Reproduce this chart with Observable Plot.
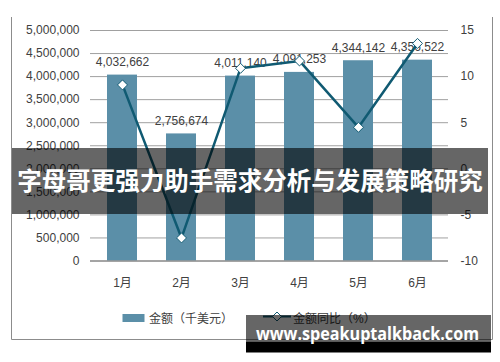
<!DOCTYPE html>
<html>
<head>
<meta charset="utf-8">
<script src="https://cdn.jsdelivr.net/npm/d3@7"></script>
<script src="https://cdn.jsdelivr.net/npm/@observablehq/plot@0.6"></script>
<style>
  html, body { margin: 0; padding: 0; background: #fff; }
  #chart { width: 500px; height: 362px; overflow: hidden; }
</style>
</head>
<body>
<div id="chart"></div>
<script>
const months = ["1月", "2月", "3月", "4月", "5月", "6月"];
const amounts = [4032662, 2756674, 4011140, 4091253, 4344142, 4356522];
const yoy = [9.1, -7.5, 10.9, 11.7, 4.5, 13.6];
const leftTicks = [0, 500000, 1000000, 1500000, 2000000, 2500000, 3000000, 3500000, 4000000, 4500000, 5000000];
const rightTicks = [-10, -5, 0, 5, 10, 15];
const title = "字母哥更强力助手需求分析与发展策略研究";
const legendBar = "金额（千美元）";
const legendLine = "金额同比（%）";
const watermark = "www.speakuptalkback.com";

const barColor = "#5b8fa8";
const lineColor = "#105a72";
const textColor = "#404040";
const font = "'Liberation Sans', Arial, 'Noto Sans CJK SC', sans-serif";

const data = months.map((m, i) => ({month: m, amount: amounts[i], yoy: yoy[i]}));
const toLeft = v => (v + 10) / 25 * 5000000;
const fmt = d3.format(",");

const chart = Plot.plot({
  width: 500,
  height: 362,
  marginLeft: 90,
  marginRight: 52,
  marginTop: 30,
  marginBottom: 101.5,
  style: {fontFamily: font, fontSize: "12px", color: textColor, background: "#fff"},
  x: {domain: months, paddingInner: 0.5, paddingOuter: 0.25, label: null},
  y: {domain: [0, 5000000], label: null},
  marks: [
    Plot.ruleY(leftTicks, {stroke: "#a0a0a0", strokeWidth: 1}),
    Plot.barY(data, {x: "month", y: "amount", fill: barColor}),
    Plot.ruleY([0], {stroke: "#7a7a7a", strokeWidth: 1}),
    Plot.axisY(leftTicks, {tickSize: 0, tickPadding: 11, tickFormat: fmt, label: null, fill: textColor}),
    Plot.axisY(rightTicks.map(toLeft), {anchor: "right", tickSize: 0, tickPadding: 12, tickFormat: d => String(Math.round(d / 200000 - 10)), label: null, fill: textColor}),
    Plot.axisX({tickSize: 0, tickPadding: 17, label: null, fill: textColor}),
    Plot.text(data, {x: "month", y: "amount", text: d => fmt(d.amount), dy: -13, fill: textColor}),
    Plot.line(data, {x: "month", y: d => toLeft(d.yoy), stroke: lineColor, strokeWidth: 2.5}),
    Plot.dot(data, {x: "month", y: d => toLeft(d.yoy), symbol: "diamond2", r: 4.5, fill: "#fff", stroke: lineColor, strokeWidth: 1})
  ]
});
document.getElementById("chart").appendChild(chart);

const svg = d3.select(chart);
// chart frame
const frame = svg.append("g").attr("fill", "none").attr("stroke", "#8c8c8c").attr("stroke-width", 1);
frame.append("path").attr("d", "M11.5,17 V339.5 H492.5 V17");

// legend
const lg = svg.append("g").attr("font-family", font).attr("font-size", 12).attr("fill", textColor).attr("text-anchor", "start");
lg.append("rect").attr("x", 122.5).attr("y", 314).attr("width", 22).attr("height", 8).attr("fill", barColor);
lg.append("text").attr("x", 149).attr("y", 322.5).attr("text-anchor", "start").text(legendBar);
lg.append("line").attr("x1", 263).attr("x2", 291).attr("y1", 316.5).attr("y2", 316.5).attr("stroke", lineColor).attr("stroke-width", 2);
lg.append("path").attr("d", "M277,312 L281.5,316.5 L277,321 L272.5,316.5 Z").attr("fill", "#fff").attr("stroke", lineColor);
lg.append("text").attr("x", 293).attr("y", 322.5).attr("text-anchor", "start").text(legendLine);

// title band overlay
svg.append("rect").attr("x", 12).attr("y", 148).attr("width", 476).attr("height", 66).attr("fill", "#000").attr("fill-opacity", 0.6);
svg.append("text").attr("x", 250).attr("y", 190).attr("text-anchor", "middle")
  .attr("font-family", "'Noto Sans CJK SC', sans-serif").attr("font-weight", "bold").attr("font-size", 24.5)
  .attr("fill", "#fff").text(title);

// watermark
svg.append("rect").attr("x", 246).attr("y", 315).attr("width", 245).attr("height", 26.5).attr("fill", "#000").attr("fill-opacity", 0.6);
svg.append("rect").attr("x", 246).attr("y", 341.5).attr("width", 245).attr("height", 11).attr("fill", "#000");
svg.append("text").attr("x", 256).attr("y", 340).attr("text-anchor", "start").attr("textLength", 223).attr("lengthAdjust", "spacingAndGlyphs")
  .attr("font-family", "'Open Sans', sans-serif").attr("font-weight", "bold").attr("font-size", 17)
  .attr("fill", "#fff").text(watermark);
</script>
</body>
</html>
